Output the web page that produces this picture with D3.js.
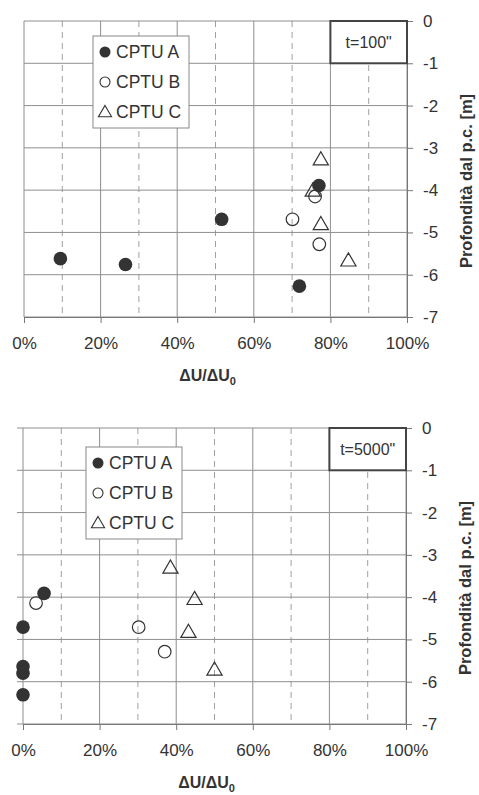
<!DOCTYPE html>
<html>
<head>
<meta charset="utf-8">
<script src="https://cdn.jsdelivr.net/npm/d3@7"></script>
<style>
  body { margin: 0; background: #fff; }
  svg { display: block; font-family: "Liberation Sans", Arial, sans-serif; }
</style>
</head>
<body>
<svg id="chart" width="479" height="795"></svg>
<script>
// data: [ΔU/ΔU0 (%), depth (m)]
const seriesNames = ['CPTU A', 'CPTU B', 'CPTU C'];
const xTicks = [0, 20, 40, 60, 80, 100];
const yTicks = [0, -1, -2, -3, -4, -5, -6, -7];

// t = 100"
const t100A = [[9.5, -5.62], [26.5, -5.76], [51.6, -4.69], [71.9, -6.27], [77.0, -3.89]];
const t100B = [[70.1, -4.69], [76.0, -4.15], [77.1, -5.28]];
const t100C = [[77.5, -3.30], [75.4, -4.04], [77.5, -4.83], [84.7, -5.69]];

// t = 5000"
const t5000A = [[5.5, -3.91], [0, -4.71], [0, -5.64], [0, -5.80], [0, -6.31]];
const t5000B = [[3.4, -4.14], [30.2, -4.71], [37.0, -5.29]];
const t5000C = [[38.5, -3.33], [44.8, -4.07], [43.2, -4.85], [50.0, -5.74]];

const svg = d3.select('#chart');

function drawPanel(opt) {
  const w = 383, h = 296;
  const g = svg.append('g').attr('transform', `translate(${opt.left},${opt.top})`);
  const x = d3.scaleLinear().domain([0, 100]).range([0, w]);
  const y = d3.scaleLinear().domain([0, -7]).range([0, h]);

  // dashed grid at odd tens
  g.selectAll('.dash').data(d3.range(10, 100, 20)).enter().append('line')
    .attr('x1', d => x(d)).attr('x2', d => x(d))
    .attr('y1', 0).attr('y2', h)
    .attr('stroke', '#a0a0a0').attr('stroke-width', 1)
    .attr('stroke-dasharray', '6,5');

  // solid grid
  g.selectAll('.vgrid').data(xTicks).enter().append('line')
    .attr('x1', d => x(d)).attr('x2', d => x(d))
    .attr('y1', 0).attr('y2', h)
    .attr('stroke', '#8e8e8e').attr('stroke-width', 1);
  g.selectAll('.hgrid').data(yTicks).enter().append('line')
    .attr('x1', opt.extendLeft ? -6 : 0).attr('x2', w)
    .attr('y1', d => y(d)).attr('y2', d => y(d))
    .attr('stroke', '#8e8e8e').attr('stroke-width', 1);

  // axes
  const yAxis = g.append('g').attr('transform', `translate(${w},0)`)
    .call(d3.axisRight(y).tickValues(yTicks).tickSize(6).tickPadding(10).tickFormat(d => String(d)));
  const xAxis = g.append('g').attr('transform', `translate(0,${h})`)
    .call(d3.axisBottom(x).tickValues(xTicks).tickSize(6).tickPadding(14).tickFormat(d => d + '%'));
  [xAxis, yAxis].forEach(a => {
    a.select('.domain').attr('stroke', '#777');
    a.selectAll('.tick line').attr('stroke', '#777');
    a.selectAll('text').attr('font-size', 17).attr('fill', '#333')
      .attr('font-family', '"Liberation Sans", Arial, sans-serif');
  });

  // time box
  g.append('rect')
    .attr('x', x(80)).attr('y', y(0))
    .attr('width', x(100) - x(80)).attr('height', y(-1) - y(0))
    .attr('fill', '#fff').attr('stroke', '#444').attr('stroke-width', 2);
  g.append('text')
    .attr('x', (x(80) + x(100)) / 2).attr('y', y(-0.5) + 6)
    .attr('text-anchor', 'middle').attr('font-size', 16).attr('fill', '#333')
    .text(opt.label);

  // points
  const ink = '#333';
  g.selectAll('.ptA').data(opt.a).enter().append('circle')
    .attr('cx', d => x(d[0])).attr('cy', d => y(d[1])).attr('r', 6.8)
    .attr('fill', ink);
  g.selectAll('.ptB').data(opt.b).enter().append('circle')
    .attr('cx', d => x(d[0])).attr('cy', d => y(d[1])).attr('r', 6.3)
    .attr('fill', 'none').attr('stroke', ink).attr('stroke-width', 1.2);
  const tri = d3.symbol().type(d3.symbolTriangle).size(100);
  g.selectAll('.ptC').data(opt.c).enter().append('path')
    .attr('d', tri)
    .attr('transform', d => `translate(${x(d[0])},${y(d[1])})`)
    .attr('fill', 'none').attr('stroke', ink).attr('stroke-width', 1.2);

  // legend
  const lg = g.append('g').attr('transform', `translate(${opt.legX},${opt.legY})`);
  lg.append('rect').attr('width', 96).attr('height', 92)
    .attr('fill', '#fff').attr('stroke', '#888').attr('stroke-width', 1);
  seriesNames.forEach((name, i) => {
    const cy = 16 + i * 30;
    if (i === 0) lg.append('circle').attr('cx', 12).attr('cy', cy).attr('r', 5.5).attr('fill', ink);
    if (i === 1) lg.append('circle').attr('cx', 12).attr('cy', cy).attr('r', 5).attr('fill', 'none').attr('stroke', ink).attr('stroke-width', 1.1);
    if (i === 2) lg.append('path').attr('d', d3.symbol().type(d3.symbolTriangle).size(75))
      .attr('transform', `translate(12,${cy + 1})`).attr('fill', 'none').attr('stroke', ink).attr('stroke-width', 1.1);
    lg.append('text').attr('x', 23).attr('y', cy + 6)
      .attr('font-size', 17.5).attr('fill', ink).text(name);
  });

  // axis titles
  const xt = g.append('text').attr('x', w / 2 - 8).attr('y', h + 64)
    .attr('text-anchor', 'middle').attr('font-size', 16).attr('font-weight', 'bold').attr('fill', '#333');
  xt.append('tspan').text('ΔU/ΔU');
  xt.append('tspan').attr('font-size', 11).attr('dy', 4).text('0');
  g.append('text')
    .attr('transform', `translate(${w + 65},${h / 2 + 12}) rotate(-90)`)
    .attr('text-anchor', 'middle').attr('font-size', 16.5).attr('font-weight', 'bold').attr('fill', '#333')
    .text('Profondità dal p.c. [m]');
}

drawPanel({ left: 24, top: 21, label: 't=100"', a: t100A, b: t100B, c: t100C, legX: 69, legY: 15, extendLeft: false });
drawPanel({ left: 23, top: 428, label: 't=5000"', a: t5000A, b: t5000B, c: t5000C, legX: 63, legY: 19, extendLeft: true });
</script>
</body>
</html>
